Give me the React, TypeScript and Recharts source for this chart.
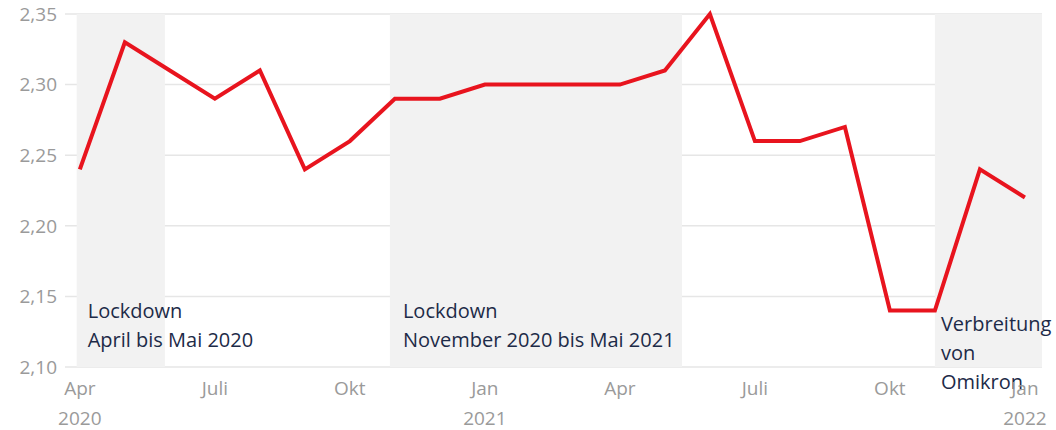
import React from 'react';
import { LineChart, Line, XAxis, YAxis, CartesianGrid, ReferenceArea } from 'recharts';

const months = ['Apr', 'Mai', 'Juni', 'Juli', 'Aug', 'Sep', 'Okt', 'Nov', 'Dez', 'Jan', 'Feb', 'Mär', 'Apr', 'Mai', 'Juni', 'Juli', 'Aug', 'Sep', 'Okt', 'Nov', 'Dez', 'Jan'];
const values = [2.24, 2.33, 2.31, 2.29, 2.31, 2.24, 2.26, 2.29, 2.29, 2.30, 2.30, 2.30, 2.30, 2.31, 2.35, 2.26, 2.26, 2.27, 2.14, 2.14, 2.24, 2.22];
const years: Record<number, string> = { 0: '2020', 9: '2021', 21: '2022' };
const xTicks = [0, 3, 6, 9, 12, 15, 18, 21];
const yTicks = [2.10, 2.15, 2.20, 2.25, 2.30, 2.35];

const areaStarts = [-0.07, 6.89, 19.0];
const areaEnds = [1.89, 13.38, 21.38];
const areaLabels = [
    ['Lockdown', 'April bis Mai 2020'],
    ['Lockdown', 'November 2020 bis Mai 2021'],
    ['Verbreitung', 'von', 'Omikron'],
];

const data = values.map((v, i) => ({ idx: i, month: months[i], value: v }));

const FONT = '"Open Sans", sans-serif';
const labelOffsets = [11, 13, 6];
const labelTops = [313, 313, 326];

const XTick = ({ x, y, payload }: any) => {
    const i = payload.value;
    return (
        <g>
            <text x={x} y={y + 15} textAnchor="middle" dominantBaseline="middle" fill="#9a9a9a" fontSize={19} fontFamily={FONT}>
                {months[i]}
            </text>
            {years[i] && (
                <text x={x} y={y + 45} textAnchor="middle" dominantBaseline="middle" fill="#9a9a9a" fontSize={19} fontFamily={FONT}>
                    {years[i]}
                </text>
            )}
        </g>
    );
};

const AreaLabel = (k: number) => (props: any) => {
    const vb = props.viewBox || {};
    return (
        <g>
            {areaLabels[k].map((t, j) => (
                <text key={j} x={vb.x + labelOffsets[k]} y={labelTops[k] + j * 29} dominantBaseline="middle" fill="#1d2b48" fontSize={20} fontFamily={FONT}>
                    {t}
                </text>
            ))}
        </g>
    );
};

export default function App() {
    return (
        <div style={{ position: 'absolute', left: 0, top: 0, width: 1056, height: 430, background: '#fff' }}>
            <LineChart width={1056} height={430} data={data} margin={{ top: 14, right: 14, left: 0, bottom: 33 }}>
                <CartesianGrid vertical={false} stroke="#e6e6e6" strokeWidth={1.5} />
                {areaStarts.map((s, k) => (
                    <ReferenceArea key={k} x1={s} x2={areaEnds[k]} y1={2.10} y2={2.35} fill="#f2f2f2" fillOpacity={1} stroke="none" label={AreaLabel(k)} ifOverflow="visible" />
                ))}
                <XAxis
                    dataKey="idx" type="number" domain={[-0.33, 21.38]} ticks={xTicks}
                    axisLine={false} tickLine={false} tick={<XTick />} interval={0}
                />
                <YAxis
                    domain={[2.10, 2.35]} ticks={yTicks} width={65} axisLine={false} tickLine={false}
                    tickFormatter={(v: number) => v.toFixed(2).replace('.', ',')}
                    tick={{ fill: '#9a9a9a', fontSize: 19, fontFamily: FONT }}
                />
                <Line
                    dataKey="value" stroke="#e8141e" strokeWidth={4} dot={false}
                    strokeLinejoin="miter" isAnimationActive={false} type="linear"
                />
            </LineChart>
        </div>
    );
}
